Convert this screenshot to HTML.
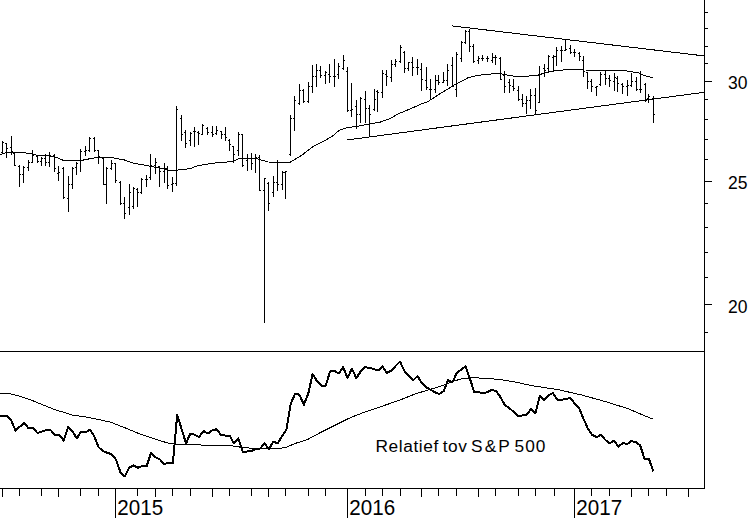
<!DOCTYPE html>
<html><head><meta charset="utf-8"><title>Chart</title>
<style>
html,body{margin:0;padding:0;background:#fff;}
body{width:752px;height:518px;overflow:hidden;}
svg{display:block;}
text{font-family:"Liberation Sans",Arial,sans-serif;fill:#000;}
</style></head><body>
<svg width="752" height="518" viewBox="0 0 752 518">
<rect width="752" height="518" fill="#fff"/>
<g fill="#000" shape-rendering="crispEdges">
<rect x="704" y="0" width="1" height="489"/>
<rect x="0" y="488" width="705" height="1"/>
<rect x="0" y="351" width="705" height="1"/>
<rect x="705" y="12" width="3" height="1"/>
<rect x="705" y="28" width="3" height="1"/>
<rect x="705" y="46" width="3" height="1"/>
<rect x="705" y="63" width="3" height="1"/>
<rect x="705" y="99" width="3" height="1"/>
<rect x="705" y="119" width="3" height="1"/>
<rect x="705" y="139" width="3" height="1"/>
<rect x="705" y="159" width="3" height="1"/>
<rect x="705" y="203" width="3" height="1"/>
<rect x="705" y="227" width="3" height="1"/>
<rect x="705" y="252" width="3" height="1"/>
<rect x="705" y="277" width="3" height="1"/>
<rect x="705" y="332" width="3" height="1"/>
<rect x="705" y="81" width="7" height="1"/>
<rect x="705" y="181" width="7" height="1"/>
<rect x="705" y="304" width="7" height="1"/>
<rect x="2" y="489" width="1" height="8"/>
<rect x="19" y="489" width="1" height="7"/>
<rect x="41" y="489" width="1" height="7"/>
<rect x="58" y="489" width="1" height="8"/>
<rect x="80" y="489" width="1" height="7"/>
<rect x="98" y="489" width="1" height="7"/>
<rect x="137" y="489" width="1" height="7"/>
<rect x="155" y="489" width="1" height="8"/>
<rect x="172" y="489" width="1" height="7"/>
<rect x="190" y="489" width="1" height="7"/>
<rect x="212" y="489" width="1" height="8"/>
<rect x="229" y="489" width="1" height="7"/>
<rect x="251" y="489" width="1" height="7"/>
<rect x="268" y="489" width="1" height="8"/>
<rect x="285" y="489" width="1" height="7"/>
<rect x="308" y="489" width="1" height="7"/>
<rect x="325" y="489" width="1" height="7"/>
<rect x="365" y="489" width="1" height="7"/>
<rect x="382" y="489" width="1" height="7"/>
<rect x="400" y="489" width="1" height="7"/>
<rect x="421" y="489" width="1" height="8"/>
<rect x="438" y="489" width="1" height="7"/>
<rect x="456" y="489" width="1" height="7"/>
<rect x="478" y="489" width="1" height="8"/>
<rect x="495" y="489" width="1" height="7"/>
<rect x="518" y="489" width="1" height="7"/>
<rect x="535" y="489" width="1" height="7"/>
<rect x="554" y="489" width="1" height="7"/>
<rect x="591" y="489" width="1" height="7"/>
<rect x="609" y="489" width="1" height="7"/>
<rect x="631" y="489" width="1" height="8"/>
<rect x="648" y="489" width="1" height="7"/>
<rect x="666" y="489" width="1" height="7"/>
<rect x="688" y="489" width="1" height="8"/>
<rect x="115" y="489" width="1" height="29"/>
<rect x="347" y="489" width="1" height="29"/>
<rect x="574" y="489" width="1" height="29"/>
<rect x="2" y="141" width="1" height="13"/>
<rect x="1" y="152" width="1" height="1"/>
<rect x="3" y="142" width="1" height="1"/>
<rect x="6" y="143" width="1" height="15"/>
<rect x="5" y="143" width="1" height="1"/>
<rect x="7" y="148" width="1" height="1"/>
<rect x="11" y="136" width="1" height="19"/>
<rect x="10" y="147" width="1" height="1"/>
<rect x="12" y="151" width="1" height="1"/>
<rect x="14" y="152" width="1" height="14"/>
<rect x="13" y="153" width="1" height="1"/>
<rect x="15" y="165" width="1" height="1"/>
<rect x="19" y="165" width="1" height="22"/>
<rect x="18" y="166" width="1" height="1"/>
<rect x="20" y="174" width="1" height="1"/>
<rect x="23" y="166" width="1" height="17"/>
<rect x="22" y="174" width="1" height="1"/>
<rect x="24" y="167" width="1" height="1"/>
<rect x="28" y="160" width="1" height="11"/>
<rect x="27" y="167" width="1" height="1"/>
<rect x="29" y="162" width="1" height="1"/>
<rect x="32" y="150" width="1" height="13"/>
<rect x="31" y="162" width="1" height="1"/>
<rect x="33" y="155" width="1" height="1"/>
<rect x="37" y="155" width="1" height="8"/>
<rect x="36" y="156" width="1" height="1"/>
<rect x="38" y="161" width="1" height="1"/>
<rect x="41" y="157" width="1" height="9"/>
<rect x="40" y="161" width="1" height="1"/>
<rect x="42" y="158" width="1" height="1"/>
<rect x="45" y="154" width="1" height="12"/>
<rect x="44" y="158" width="1" height="1"/>
<rect x="46" y="162" width="1" height="1"/>
<rect x="49" y="152" width="1" height="15"/>
<rect x="48" y="162" width="1" height="1"/>
<rect x="50" y="155" width="1" height="1"/>
<rect x="54" y="154" width="1" height="18"/>
<rect x="53" y="155" width="1" height="1"/>
<rect x="55" y="168" width="1" height="1"/>
<rect x="58" y="166" width="1" height="15"/>
<rect x="57" y="173" width="1" height="1"/>
<rect x="59" y="172" width="1" height="1"/>
<rect x="63" y="167" width="1" height="32"/>
<rect x="62" y="168" width="1" height="1"/>
<rect x="64" y="197" width="1" height="1"/>
<rect x="68" y="176" width="1" height="36"/>
<rect x="67" y="198" width="1" height="1"/>
<rect x="69" y="184" width="1" height="1"/>
<rect x="72" y="167" width="1" height="22"/>
<rect x="71" y="184" width="1" height="1"/>
<rect x="73" y="168" width="1" height="1"/>
<rect x="76" y="162" width="1" height="13"/>
<rect x="75" y="167" width="1" height="1"/>
<rect x="77" y="163" width="1" height="1"/>
<rect x="80" y="149" width="1" height="23"/>
<rect x="79" y="160" width="1" height="1"/>
<rect x="81" y="151" width="1" height="1"/>
<rect x="85" y="146" width="1" height="10"/>
<rect x="84" y="151" width="1" height="1"/>
<rect x="86" y="150" width="1" height="1"/>
<rect x="89" y="137" width="1" height="15"/>
<rect x="88" y="150" width="1" height="1"/>
<rect x="90" y="138" width="1" height="1"/>
<rect x="94" y="137" width="1" height="15"/>
<rect x="93" y="138" width="1" height="1"/>
<rect x="95" y="150" width="1" height="1"/>
<rect x="98" y="150" width="1" height="14"/>
<rect x="97" y="150" width="1" height="1"/>
<rect x="99" y="156" width="1" height="1"/>
<rect x="103" y="157" width="1" height="28"/>
<rect x="102" y="158" width="1" height="1"/>
<rect x="104" y="184" width="1" height="1"/>
<rect x="106" y="167" width="1" height="37"/>
<rect x="105" y="184" width="1" height="1"/>
<rect x="107" y="168" width="1" height="1"/>
<rect x="111" y="160" width="1" height="10"/>
<rect x="110" y="168" width="1" height="1"/>
<rect x="112" y="163" width="1" height="1"/>
<rect x="115" y="163" width="1" height="20"/>
<rect x="114" y="163" width="1" height="1"/>
<rect x="116" y="180" width="1" height="1"/>
<rect x="120" y="181" width="1" height="24"/>
<rect x="119" y="182" width="1" height="1"/>
<rect x="121" y="203" width="1" height="1"/>
<rect x="124" y="197" width="1" height="22"/>
<rect x="123" y="203" width="1" height="1"/>
<rect x="125" y="213" width="1" height="1"/>
<rect x="129" y="184" width="1" height="31"/>
<rect x="128" y="207" width="1" height="1"/>
<rect x="130" y="192" width="1" height="1"/>
<rect x="133" y="187" width="1" height="22"/>
<rect x="132" y="206" width="1" height="1"/>
<rect x="134" y="188" width="1" height="1"/>
<rect x="137" y="188" width="1" height="19"/>
<rect x="136" y="189" width="1" height="1"/>
<rect x="138" y="192" width="1" height="1"/>
<rect x="141" y="178" width="1" height="16"/>
<rect x="140" y="192" width="1" height="1"/>
<rect x="142" y="179" width="1" height="1"/>
<rect x="146" y="175" width="1" height="12"/>
<rect x="145" y="179" width="1" height="1"/>
<rect x="147" y="179" width="1" height="1"/>
<rect x="150" y="154" width="1" height="26"/>
<rect x="149" y="177" width="1" height="1"/>
<rect x="151" y="165" width="1" height="1"/>
<rect x="155" y="158" width="1" height="16"/>
<rect x="154" y="165" width="1" height="1"/>
<rect x="156" y="162" width="1" height="1"/>
<rect x="159" y="166" width="1" height="21"/>
<rect x="158" y="166" width="1" height="1"/>
<rect x="160" y="171" width="1" height="1"/>
<rect x="164" y="163" width="1" height="20"/>
<rect x="163" y="171" width="1" height="1"/>
<rect x="165" y="168" width="1" height="1"/>
<rect x="167" y="166" width="1" height="23"/>
<rect x="166" y="168" width="1" height="1"/>
<rect x="168" y="185" width="1" height="1"/>
<rect x="172" y="177" width="1" height="15"/>
<rect x="171" y="184" width="1" height="1"/>
<rect x="173" y="183" width="1" height="1"/>
<rect x="176" y="106" width="1" height="80"/>
<rect x="175" y="183" width="1" height="1"/>
<rect x="177" y="109" width="1" height="1"/>
<rect x="181" y="115" width="1" height="26"/>
<rect x="180" y="118" width="1" height="1"/>
<rect x="182" y="134" width="1" height="1"/>
<rect x="185" y="130" width="1" height="18"/>
<rect x="184" y="132" width="1" height="1"/>
<rect x="186" y="143" width="1" height="1"/>
<rect x="190" y="132" width="1" height="14"/>
<rect x="189" y="140" width="1" height="1"/>
<rect x="191" y="133" width="1" height="1"/>
<rect x="194" y="127" width="1" height="20"/>
<rect x="193" y="131" width="1" height="1"/>
<rect x="195" y="131" width="1" height="1"/>
<rect x="198" y="131" width="1" height="14"/>
<rect x="197" y="132" width="1" height="1"/>
<rect x="199" y="133" width="1" height="1"/>
<rect x="202" y="124" width="1" height="11"/>
<rect x="201" y="134" width="1" height="1"/>
<rect x="203" y="125" width="1" height="1"/>
<rect x="207" y="127" width="1" height="8"/>
<rect x="206" y="128" width="1" height="1"/>
<rect x="208" y="132" width="1" height="1"/>
<rect x="212" y="126" width="1" height="11"/>
<rect x="211" y="132" width="1" height="1"/>
<rect x="213" y="134" width="1" height="1"/>
<rect x="216" y="126" width="1" height="9"/>
<rect x="215" y="133" width="1" height="1"/>
<rect x="217" y="130" width="1" height="1"/>
<rect x="221" y="131" width="1" height="8"/>
<rect x="220" y="131" width="1" height="1"/>
<rect x="222" y="134" width="1" height="1"/>
<rect x="225" y="127" width="1" height="14"/>
<rect x="224" y="134" width="1" height="1"/>
<rect x="226" y="137" width="1" height="1"/>
<rect x="229" y="139" width="1" height="12"/>
<rect x="228" y="140" width="1" height="1"/>
<rect x="230" y="144" width="1" height="1"/>
<rect x="233" y="146" width="1" height="17"/>
<rect x="232" y="146" width="1" height="1"/>
<rect x="234" y="154" width="1" height="1"/>
<rect x="238" y="132" width="1" height="24"/>
<rect x="237" y="150" width="1" height="1"/>
<rect x="239" y="134" width="1" height="1"/>
<rect x="242" y="134" width="1" height="33"/>
<rect x="241" y="134" width="1" height="1"/>
<rect x="243" y="165" width="1" height="1"/>
<rect x="247" y="154" width="1" height="17"/>
<rect x="246" y="160" width="1" height="1"/>
<rect x="248" y="158" width="1" height="1"/>
<rect x="251" y="153" width="1" height="17"/>
<rect x="250" y="158" width="1" height="1"/>
<rect x="252" y="163" width="1" height="1"/>
<rect x="255" y="154" width="1" height="19"/>
<rect x="254" y="158" width="1" height="1"/>
<rect x="256" y="157" width="1" height="1"/>
<rect x="259" y="155" width="1" height="36"/>
<rect x="258" y="157" width="1" height="1"/>
<rect x="260" y="190" width="1" height="1"/>
<rect x="264" y="178" width="1" height="145"/>
<rect x="263" y="190" width="1" height="1"/>
<rect x="265" y="178" width="1" height="1"/>
<rect x="268" y="182" width="1" height="29"/>
<rect x="267" y="183" width="1" height="1"/>
<rect x="269" y="203" width="1" height="1"/>
<rect x="273" y="176" width="1" height="21"/>
<rect x="272" y="192" width="1" height="1"/>
<rect x="274" y="182" width="1" height="1"/>
<rect x="277" y="160" width="1" height="31"/>
<rect x="276" y="182" width="1" height="1"/>
<rect x="278" y="184" width="1" height="1"/>
<rect x="282" y="171" width="1" height="19"/>
<rect x="281" y="184" width="1" height="1"/>
<rect x="283" y="172" width="1" height="1"/>
<rect x="285" y="171" width="1" height="28"/>
<rect x="284" y="172" width="1" height="1"/>
<rect x="286" y="171" width="1" height="1"/>
<rect x="290" y="115" width="1" height="41"/>
<rect x="289" y="154" width="1" height="1"/>
<rect x="291" y="118" width="1" height="1"/>
<rect x="294" y="96" width="1" height="35"/>
<rect x="293" y="118" width="1" height="1"/>
<rect x="295" y="100" width="1" height="1"/>
<rect x="299" y="84" width="1" height="21"/>
<rect x="298" y="103" width="1" height="1"/>
<rect x="300" y="90" width="1" height="1"/>
<rect x="303" y="89" width="1" height="14"/>
<rect x="302" y="90" width="1" height="1"/>
<rect x="304" y="101" width="1" height="1"/>
<rect x="308" y="82" width="1" height="21"/>
<rect x="307" y="101" width="1" height="1"/>
<rect x="309" y="86" width="1" height="1"/>
<rect x="312" y="65" width="1" height="28"/>
<rect x="311" y="86" width="1" height="1"/>
<rect x="313" y="76" width="1" height="1"/>
<rect x="316" y="64" width="1" height="23"/>
<rect x="315" y="76" width="1" height="1"/>
<rect x="317" y="70" width="1" height="1"/>
<rect x="320" y="66" width="1" height="12"/>
<rect x="319" y="70" width="1" height="1"/>
<rect x="321" y="75" width="1" height="1"/>
<rect x="325" y="71" width="1" height="13"/>
<rect x="324" y="75" width="1" height="1"/>
<rect x="326" y="72" width="1" height="1"/>
<rect x="329" y="64" width="1" height="19"/>
<rect x="328" y="74" width="1" height="1"/>
<rect x="330" y="76" width="1" height="1"/>
<rect x="334" y="59" width="1" height="28"/>
<rect x="333" y="76" width="1" height="1"/>
<rect x="335" y="76" width="1" height="1"/>
<rect x="338" y="63" width="1" height="16"/>
<rect x="337" y="74" width="1" height="1"/>
<rect x="339" y="66" width="1" height="1"/>
<rect x="343" y="55" width="1" height="15"/>
<rect x="342" y="68" width="1" height="1"/>
<rect x="344" y="60" width="1" height="1"/>
<rect x="347" y="67" width="1" height="45"/>
<rect x="346" y="71" width="1" height="1"/>
<rect x="348" y="110" width="1" height="1"/>
<rect x="351" y="83" width="1" height="34"/>
<rect x="350" y="110" width="1" height="1"/>
<rect x="352" y="109" width="1" height="1"/>
<rect x="356" y="100" width="1" height="29"/>
<rect x="355" y="106" width="1" height="1"/>
<rect x="357" y="114" width="1" height="1"/>
<rect x="360" y="97" width="1" height="26"/>
<rect x="359" y="114" width="1" height="1"/>
<rect x="361" y="98" width="1" height="1"/>
<rect x="365" y="91" width="1" height="32"/>
<rect x="364" y="99" width="1" height="1"/>
<rect x="366" y="108" width="1" height="1"/>
<rect x="369" y="105" width="1" height="32"/>
<rect x="368" y="108" width="1" height="1"/>
<rect x="370" y="114" width="1" height="1"/>
<rect x="374" y="89" width="1" height="22"/>
<rect x="373" y="109" width="1" height="1"/>
<rect x="375" y="99" width="1" height="1"/>
<rect x="377" y="90" width="1" height="22"/>
<rect x="376" y="91" width="1" height="1"/>
<rect x="378" y="92" width="1" height="1"/>
<rect x="382" y="70" width="1" height="28"/>
<rect x="381" y="92" width="1" height="1"/>
<rect x="383" y="73" width="1" height="1"/>
<rect x="386" y="70" width="1" height="16"/>
<rect x="385" y="74" width="1" height="1"/>
<rect x="387" y="76" width="1" height="1"/>
<rect x="391" y="60" width="1" height="22"/>
<rect x="390" y="77" width="1" height="1"/>
<rect x="392" y="64" width="1" height="1"/>
<rect x="395" y="59" width="1" height="8"/>
<rect x="394" y="64" width="1" height="1"/>
<rect x="396" y="61" width="1" height="1"/>
<rect x="400" y="45" width="1" height="18"/>
<rect x="399" y="61" width="1" height="1"/>
<rect x="401" y="47" width="1" height="1"/>
<rect x="404" y="51" width="1" height="22"/>
<rect x="403" y="52" width="1" height="1"/>
<rect x="405" y="68" width="1" height="1"/>
<rect x="408" y="62" width="1" height="9"/>
<rect x="407" y="68" width="1" height="1"/>
<rect x="409" y="62" width="1" height="1"/>
<rect x="412" y="57" width="1" height="19"/>
<rect x="411" y="62" width="1" height="1"/>
<rect x="413" y="67" width="1" height="1"/>
<rect x="417" y="59" width="1" height="16"/>
<rect x="416" y="67" width="1" height="1"/>
<rect x="418" y="67" width="1" height="1"/>
<rect x="421" y="63" width="1" height="28"/>
<rect x="420" y="69" width="1" height="1"/>
<rect x="422" y="79" width="1" height="1"/>
<rect x="426" y="67" width="1" height="23"/>
<rect x="425" y="80" width="1" height="1"/>
<rect x="427" y="87" width="1" height="1"/>
<rect x="430" y="79" width="1" height="21"/>
<rect x="429" y="89" width="1" height="1"/>
<rect x="431" y="89" width="1" height="1"/>
<rect x="435" y="75" width="1" height="18"/>
<rect x="434" y="89" width="1" height="1"/>
<rect x="436" y="80" width="1" height="1"/>
<rect x="438" y="75" width="1" height="10"/>
<rect x="437" y="80" width="1" height="1"/>
<rect x="439" y="82" width="1" height="1"/>
<rect x="443" y="72" width="1" height="11"/>
<rect x="442" y="82" width="1" height="1"/>
<rect x="444" y="80" width="1" height="1"/>
<rect x="447" y="64" width="1" height="22"/>
<rect x="446" y="80" width="1" height="1"/>
<rect x="448" y="70" width="1" height="1"/>
<rect x="452" y="57" width="1" height="30"/>
<rect x="451" y="65" width="1" height="1"/>
<rect x="453" y="86" width="1" height="1"/>
<rect x="456" y="52" width="1" height="45"/>
<rect x="455" y="89" width="1" height="1"/>
<rect x="457" y="54" width="1" height="1"/>
<rect x="461" y="41" width="1" height="21"/>
<rect x="460" y="58" width="1" height="1"/>
<rect x="462" y="42" width="1" height="1"/>
<rect x="465" y="30" width="1" height="14"/>
<rect x="464" y="42" width="1" height="1"/>
<rect x="466" y="31" width="1" height="1"/>
<rect x="469" y="29" width="1" height="23"/>
<rect x="468" y="31" width="1" height="1"/>
<rect x="470" y="46" width="1" height="1"/>
<rect x="473" y="44" width="1" height="19"/>
<rect x="472" y="46" width="1" height="1"/>
<rect x="474" y="61" width="1" height="1"/>
<rect x="478" y="56" width="1" height="8"/>
<rect x="477" y="60" width="1" height="1"/>
<rect x="479" y="58" width="1" height="1"/>
<rect x="482" y="55" width="1" height="6"/>
<rect x="481" y="58" width="1" height="1"/>
<rect x="483" y="58" width="1" height="1"/>
<rect x="487" y="56" width="1" height="6"/>
<rect x="486" y="58" width="1" height="1"/>
<rect x="488" y="58" width="1" height="1"/>
<rect x="492" y="53" width="1" height="10"/>
<rect x="491" y="60" width="1" height="1"/>
<rect x="493" y="57" width="1" height="1"/>
<rect x="495" y="55" width="1" height="10"/>
<rect x="494" y="57" width="1" height="1"/>
<rect x="496" y="57" width="1" height="1"/>
<rect x="500" y="57" width="1" height="23"/>
<rect x="499" y="58" width="1" height="1"/>
<rect x="501" y="79" width="1" height="1"/>
<rect x="504" y="71" width="1" height="22"/>
<rect x="503" y="75" width="1" height="1"/>
<rect x="505" y="86" width="1" height="1"/>
<rect x="509" y="79" width="1" height="14"/>
<rect x="508" y="82" width="1" height="1"/>
<rect x="510" y="85" width="1" height="1"/>
<rect x="513" y="79" width="1" height="12"/>
<rect x="512" y="86" width="1" height="1"/>
<rect x="514" y="88" width="1" height="1"/>
<rect x="518" y="86" width="1" height="15"/>
<rect x="517" y="90" width="1" height="1"/>
<rect x="519" y="99" width="1" height="1"/>
<rect x="522" y="94" width="1" height="13"/>
<rect x="521" y="99" width="1" height="1"/>
<rect x="523" y="103" width="1" height="1"/>
<rect x="526" y="96" width="1" height="18"/>
<rect x="525" y="103" width="1" height="1"/>
<rect x="527" y="100" width="1" height="1"/>
<rect x="530" y="89" width="1" height="20"/>
<rect x="529" y="100" width="1" height="1"/>
<rect x="531" y="95" width="1" height="1"/>
<rect x="535" y="88" width="1" height="27"/>
<rect x="534" y="95" width="1" height="1"/>
<rect x="536" y="110" width="1" height="1"/>
<rect x="539" y="66" width="1" height="37"/>
<rect x="538" y="102" width="1" height="1"/>
<rect x="540" y="74" width="1" height="1"/>
<rect x="544" y="64" width="1" height="13"/>
<rect x="543" y="68" width="1" height="1"/>
<rect x="545" y="70" width="1" height="1"/>
<rect x="548" y="55" width="1" height="16"/>
<rect x="547" y="68" width="1" height="1"/>
<rect x="549" y="56" width="1" height="1"/>
<rect x="553" y="55" width="1" height="16"/>
<rect x="552" y="57" width="1" height="1"/>
<rect x="554" y="56" width="1" height="1"/>
<rect x="556" y="47" width="1" height="19"/>
<rect x="555" y="56" width="1" height="1"/>
<rect x="557" y="50" width="1" height="1"/>
<rect x="561" y="46" width="1" height="16"/>
<rect x="560" y="50" width="1" height="1"/>
<rect x="562" y="50" width="1" height="1"/>
<rect x="565" y="39" width="1" height="12"/>
<rect x="564" y="50" width="1" height="1"/>
<rect x="566" y="49" width="1" height="1"/>
<rect x="570" y="45" width="1" height="9"/>
<rect x="569" y="48" width="1" height="1"/>
<rect x="571" y="52" width="1" height="1"/>
<rect x="574" y="49" width="1" height="8"/>
<rect x="573" y="52" width="1" height="1"/>
<rect x="575" y="52" width="1" height="1"/>
<rect x="579" y="52" width="1" height="9"/>
<rect x="578" y="53" width="1" height="1"/>
<rect x="580" y="56" width="1" height="1"/>
<rect x="583" y="56" width="1" height="21"/>
<rect x="582" y="60" width="1" height="1"/>
<rect x="584" y="71" width="1" height="1"/>
<rect x="587" y="72" width="1" height="17"/>
<rect x="586" y="72" width="1" height="1"/>
<rect x="588" y="81" width="1" height="1"/>
<rect x="591" y="79" width="1" height="13"/>
<rect x="590" y="81" width="1" height="1"/>
<rect x="592" y="86" width="1" height="1"/>
<rect x="596" y="86" width="1" height="10"/>
<rect x="595" y="87" width="1" height="1"/>
<rect x="597" y="86" width="1" height="1"/>
<rect x="600" y="72" width="1" height="14"/>
<rect x="599" y="84" width="1" height="1"/>
<rect x="601" y="74" width="1" height="1"/>
<rect x="605" y="70" width="1" height="15"/>
<rect x="604" y="74" width="1" height="1"/>
<rect x="606" y="78" width="1" height="1"/>
<rect x="609" y="75" width="1" height="12"/>
<rect x="608" y="78" width="1" height="1"/>
<rect x="610" y="80" width="1" height="1"/>
<rect x="614" y="73" width="1" height="18"/>
<rect x="613" y="81" width="1" height="1"/>
<rect x="615" y="77" width="1" height="1"/>
<rect x="617" y="76" width="1" height="16"/>
<rect x="616" y="78" width="1" height="1"/>
<rect x="618" y="83" width="1" height="1"/>
<rect x="622" y="83" width="1" height="11"/>
<rect x="621" y="84" width="1" height="1"/>
<rect x="623" y="86" width="1" height="1"/>
<rect x="627" y="80" width="1" height="16"/>
<rect x="626" y="86" width="1" height="1"/>
<rect x="628" y="85" width="1" height="1"/>
<rect x="631" y="73" width="1" height="14"/>
<rect x="630" y="85" width="1" height="1"/>
<rect x="632" y="81" width="1" height="1"/>
<rect x="636" y="77" width="1" height="14"/>
<rect x="635" y="81" width="1" height="1"/>
<rect x="637" y="89" width="1" height="1"/>
<rect x="640" y="71" width="1" height="22"/>
<rect x="639" y="89" width="1" height="1"/>
<rect x="641" y="89" width="1" height="1"/>
<rect x="645" y="83" width="1" height="19"/>
<rect x="644" y="84" width="1" height="1"/>
<rect x="646" y="100" width="1" height="1"/>
<rect x="648" y="94" width="1" height="9"/>
<rect x="647" y="98" width="1" height="1"/>
<rect x="649" y="96" width="1" height="1"/>
<rect x="653" y="96" width="1" height="27"/>
<rect x="652" y="98" width="1" height="1"/>
<rect x="654" y="114" width="1" height="1"/>
</g>
<g shape-rendering="crispEdges" stroke-linejoin="round">
<polyline fill="none" stroke="#000" stroke-width="1" points="0.0,154.5 7.0,152.5 23.0,152.5 33.0,154.0 38.0,155.5 50.0,156.0 58.0,157.9 64.0,160.7 80.0,160.7 88.0,159.1 98.0,157.3 113.0,157.9 125.0,160.1 132.0,162.9 148.0,165.8 165.0,169.3 172.0,170.8 177.0,170.1 191.0,168.5 194.0,166.8 203.0,164.7 217.0,162.8 233.0,161.5 239.0,158.7 258.0,159.0 268.0,162.0 290.0,162.3 301.5,155.5 313.0,146.5 325.0,140.5 332.0,136.5 339.0,130.5 347.0,127.5 356.5,126.5 370.0,123.9 380.0,122.2 390.0,118.5 399.0,113.5 410.0,109.0 420.0,104.5 428.0,101.5 441.5,92.8 456.5,83.7 468.0,77.8 478.0,75.3 498.0,73.3 511.0,75.7 519.0,76.7 537.0,75.5 546.0,72.5 555.0,70.7 566.0,69.7 583.0,70.0 605.0,70.1 620.0,70.7 627.0,71.0 639.5,73.1 644.5,75.6 652.6,77.8"/>
<polyline fill="none" stroke="#000" stroke-width="1" points="347.5,139.9 704.0,92.3"/>
<polyline fill="none" stroke="#000" stroke-width="1" points="452.0,25.9 704.0,55.9"/>
<polyline fill="none" stroke="#000" stroke-width="2" points="0.0,415.5 2.5,415.5 6.9,416.0 11.2,420.5 15.6,430.5 20.0,426.5 24.3,423.0 28.7,428.5 33.1,427.5 37.4,433.0 41.8,431.5 46.2,430.2 50.5,430.0 54.9,434.8 59.3,435.0 63.7,440.5 68.0,427.2 72.4,431.0 76.8,438.5 81.1,431.5 85.5,432.2 89.9,429.8 94.2,436.0 98.6,447.2 103.0,451.0 107.3,452.8 111.7,454.2 116.1,459.8 120.4,472.2 124.8,476.5 129.2,467.8 133.5,465.5 137.9,467.8 142.3,466.0 146.6,466.2 151.0,453.0 155.4,457.2 159.7,459.2 164.1,464.0 168.5,463.0 172.9,463.0 177.2,414.8 181.6,429.0 186.0,443.5 190.3,433.5 194.7,434.8 199.1,437.2 203.4,431.0 207.8,433.5 212.2,430.5 216.5,429.2 220.9,434.8 225.3,435.5 229.6,435.5 234.0,443.5 238.4,438.5 242.7,451.8 247.1,451.5 251.5,451.0 255.8,449.0 260.2,448.5 264.6,443.5 268.9,449.0 273.3,441.5 277.7,443.5 282.1,436.0 286.4,429.8 290.8,403.5 295.2,393.5 299.5,394.8 303.9,404.8 308.3,393.5 312.6,374.0 317.0,381.0 321.4,385.5 325.7,385.5 330.1,371.5 334.5,371.0 338.8,373.5 343.2,367.2 347.6,378.0 351.9,368.5 356.3,378.0 360.7,371.5 365.0,367.2 369.4,368.0 373.8,369.0 378.1,370.5 382.5,366.5 386.9,373.0 391.3,370.5 395.6,366.0 400.0,361.5 404.4,371.0 408.7,375.5 413.1,380.5 417.5,376.0 421.8,383.0 426.2,387.2 430.6,389.8 434.9,392.2 439.3,394.0 443.7,391.0 448.0,380.2 452.4,382.2 456.8,373.0 461.1,369.8 465.5,366.5 469.9,378.5 474.2,392.2 478.6,392.2 483.0,393.0 487.3,392.2 491.7,389.8 496.1,391.0 500.5,397.2 504.8,404.8 509.2,408.0 513.6,411.8 517.9,416.0 522.3,415.5 526.7,414.8 531.0,409.2 535.4,413.0 539.8,396.0 544.1,399.8 548.5,395.5 552.9,393.0 557.2,399.8 561.6,399.8 566.0,399.0 570.3,398.0 574.7,403.5 579.1,408.0 583.4,418.5 587.8,428.5 592.2,434.8 596.5,437.2 600.9,434.8 605.3,439.8 609.7,443.5 614.0,440.5 618.4,446.5 622.8,443.0 627.1,444.0 631.5,441.0 635.9,442.2 640.2,445.5 644.6,459.0 649.0,459.0 653.3,471.5"/>
<polyline fill="none" stroke="#000" stroke-width="1" points="0.0,393.3 6.0,393.3 12.4,394.3 24.0,397.5 33.0,400.8 40.0,403.7 57.5,410.7 62.0,411.8 72.5,415.2 87.5,417.2 110.0,422.0 125.0,427.8 140.0,434.0 155.0,439.0 170.0,443.7 185.0,444.5 207.5,445.2 232.5,446.0 245.0,447.8 270.0,449.0 285.0,447.8 295.0,443.5 307.5,439.5 320.0,432.8 332.5,426.5 345.0,420.2 352.5,416.8 365.0,412.0 377.5,407.8 390.0,403.5 402.5,399.0 415.0,394.0 427.5,390.2 440.0,386.5 452.5,381.5 462.5,378.5 472.5,377.8 485.0,378.2 500.0,379.5 515.0,382.0 532.5,385.8 557.5,389.5 582.5,395.2 605.0,401.5 627.5,408.5 652.5,419.0"/>
</g>
<g>
<text x="728.0" y="88.6" font-size="17.5">30</text>
<text x="728.0" y="188.5" font-size="17.5">25</text>
<text x="728.0" y="312.7" font-size="17.5">20</text>
<text x="117.3" y="515.0" font-size="21.6" textLength="45.8" lengthAdjust="spacingAndGlyphs">2015</text>
<text x="349.3" y="515.0" font-size="21.6" textLength="45.8" lengthAdjust="spacingAndGlyphs">2016</text>
<text x="576.3" y="515.0" font-size="21.6" textLength="45.8" lengthAdjust="spacingAndGlyphs">2017</text>
<text y="452.2" font-size="17.3"><tspan x="375.5" letter-spacing="0.6">Relatief</tspan> <tspan x="442.8" letter-spacing="0.5">tov</tspan> <tspan x="471.0" letter-spacing="2.1">S&amp;P</tspan> <tspan x="514.5" letter-spacing="1.05">500</tspan></text>
</g>
</svg>
</body></html>
